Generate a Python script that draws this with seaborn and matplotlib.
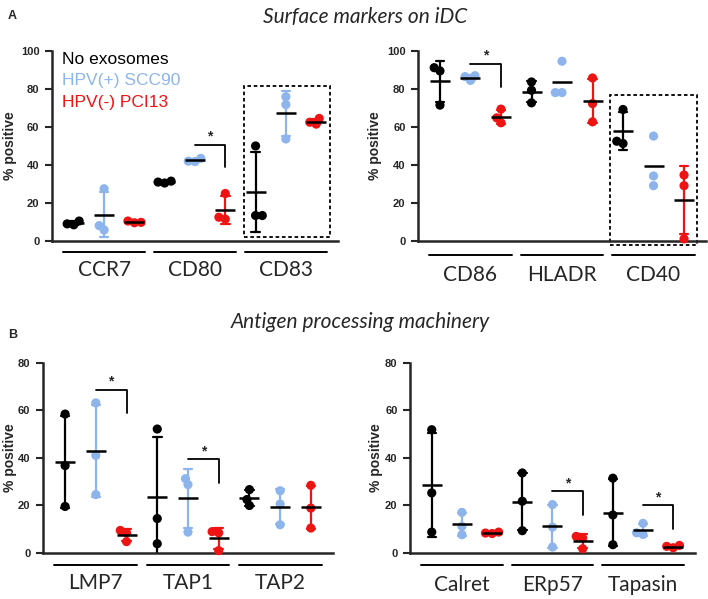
import matplotlib
matplotlib.use("Agg")
import matplotlib.pyplot as plt
import matplotlib.transforms as mtransforms
from matplotlib.patches import Rectangle
import pandas as pd
import seaborn as sns

groups = ["No exosomes", "HPV(+) SCC90", "HPV(-) PCI13"]
colors = ["#000000", "#8DB5EC", "#EE1414"]

# panel A left
a1_markers = ["CCR7", "CD80", "CD83"]
a1_no = [[10.5, 9.0, 8.5], [31.5, 31.0, 30.5], [50.0, 13.4, 13.4]]
a1_hpvp = [[27.5, 5.8, 8.1], [43.5, 42.0, 41.8], [75.9, 71.8, 53.7]]
a1_hpvn = [[10.5, 9.8, 9.6], [25.0, 11.5, 12.5], [64.5, 62.5, 61.5]]

# panel A right
a2_markers = ["CD86", "HLADR", "CD40"]
a2_no = [[91.2, 89.5, 71.5], [83.7, 79.3, 72.7], [69.2, 52.5, 51.3]]
a2_hpvp = [[87.0, 84.5, 86.5], [94.6, 78.1, 78.1], [55.2, 34.2, 29.1]]
a2_hpvn = [[69.4, 64.8, 62.2], [85.8, 72.3, 62.7], [34.7, 29.1, 1.1]]

# panel B left
b1_markers = ["LMP7", "TAP1", "TAP2"]
b1_no = [[58.5, 36.8, 19.6], [52.2, 14.5, 3.9], [26.7, 20.0, 22.5]]
b1_hpvp = [[63.2, 41.1, 24.6], [31.3, 28.8, 8.8], [26.2, 20.6, 11.9]]
b1_hpvn = [[9.5, 8.5, 4.8], [9.0, 8.5, 1.0], [28.5, 18.9, 10.5]]

# panel B right
b2_markers = ["Calret", "ERp57", "Tapasin"]
b2_no = [[51.9, 25.3, 8.8], [33.7, 21.8, 9.4], [31.5, 16.0, 3.5]]
b2_hpvp = [[17.1, 11.2, 7.7], [20.4, 10.9, 2.5], [12.5, 8.5, 7.8]]
b2_hpvn = [[8.8, 8.4, 8.2], [7.0, 6.3, 1.8], [3.2, 2.8, 2.2]]

# significance brackets: (left slot, right slot, top, bottom)
a1_sig = [(4, 5, 50.7, 38.7)]
a2_sig = [(1, 2, 93.3, 81.0)]
b1_sig = [(1, 2, 68.8, 59.0), (4, 5, 39.6, 29.5)]
b2_sig = [(4, 5, 26.0, 16.1), (7, 8, 20.0, 10.2)]

# slots whose error bars are not drawn
a2_noerr = [4, 7]

sns.set_style("ticks")
plt.rcParams["font.family"] = ["Liberation Sans", "DejaVu Sans"]

swarms = []


def long_table(markers, no, hpvp, hpvn):
    rows = []
    for i, m in enumerate(markers):
        for g, vals in zip(groups, [no[i], hpvp[i], hpvn[i]]):
            for v in vals:
                rows.append({"slot": f"{m}|{g}", "marker": m, "group": g, "value": v})
    return pd.DataFrame(rows)


def draw_panel(ax, markers, no, hpvp, hpvn, ymax, sig, noerr=(), box=None,
               legend=False, line_y=-0.06, label_y=-0.155, ylab_x=-0.12):
    df = long_table(markers, no, hpvp, hpvn)
    slots = [f"{m}|{g}" for m in markers for g in groups]
    pal = dict(zip(groups, colors))
    err_df = df[~df["slot"].isin([slots[i] for i in noerr])]
    sns.pointplot(data=err_df, x="slot", y="value", hue="group", order=slots,
                  hue_order=groups, palette=pal, errorbar="sd", capsize=0.28,
                  err_kws={"linewidth": 1.6}, markers="", linestyle="none",
                  dodge=False, legend=False, ax=ax)
    n0 = len(ax.collections)
    # small size for the swarm layout, enlarged after the first draw
    sns.swarmplot(data=df, x="slot", y="value", hue="group", order=slots,
                  hue_order=groups, palette=pal, size=4.6, legend=False,
                  ax=ax, zorder=3)
    swarms.extend(ax.collections[n0:])
    sns.pointplot(data=df, x="slot", y="value", order=slots, color="black",
                  errorbar=None, markers="_", markersize=15, markeredgewidth=1.8,
                  linestyle="none", ax=ax)
    for c in ax.collections:
        c.set_clip_on(False)
    for ln in ax.lines:
        ln.set_zorder(4 if ln.get_marker() == "_" else 2)

    ax.set_xlim(-0.72, 8.72)
    ax.set_ylim(0, ymax)
    ax.set_yticks(range(0, ymax + 1, 20))
    ax.set_xticks([])
    ax.set_xlabel("")
    ax.set_ylabel("% positive", fontsize=10, fontweight="bold")
    ax.yaxis.set_label_coords(ylab_x, 0.5)
    for lab in ax.get_yticklabels():
        lab.set_fontweight("bold")
    ax.tick_params(axis="y", labelsize=8, width=1.5, length=5, pad=4)
    sns.despine(ax=ax)
    for s in ["left", "bottom"]:
        ax.spines[s].set_linewidth(1.8)

    trans = mtransforms.blended_transform_factory(ax.transData, ax.transAxes)
    for i, m in enumerate(markers):
        c = 3 * i + 1
        ax.plot([c - 1.35, c + 1.35], [line_y, line_y], color="black", lw=1.4,
                transform=trans, clip_on=False)
        ax.text(c, label_y, m, transform=trans, ha="center", va="center",
                fontsize=15, family="Lato")

    for x0, x1, top, bot in sig:
        ax.plot([x0, x1, x1], [top, top, bot], color="black", lw=1.3, clip_on=False)
        ax.text((x0 + x1) / 2, top + ymax * 0.005, "*", ha="center", va="bottom",
                fontsize=10, fontweight="bold")

    if box is not None:
        x0, x1, y0, y1 = box
        ax.add_patch(Rectangle((x0, y0), x1 - x0, y1 - y0, fill=False, lw=1.3,
                               ls=(0, (2, 1.5)), ec="black", clip_on=False, zorder=1))

    if legend:
        for k, (g, col) in enumerate(zip(groups, colors)):
            ax.text(0.035, 0.955 - k * 0.112, g, transform=ax.transAxes, color=col,
                    fontsize=12.5, va="center", ha="left")


fig = plt.figure(figsize=(7.08, 5.99), dpi=100)
ax1 = fig.add_axes([0.0734, 0.5977, 0.404, 0.3172])
ax2 = fig.add_axes([0.5904, 0.5977, 0.4068, 0.3172])
ax3 = fig.add_axes([0.0607, 0.0768, 0.4096, 0.3172])
ax4 = fig.add_axes([0.5791, 0.0768, 0.4025, 0.3172])

draw_panel(ax1, a1_markers, a1_no, a1_hpvp, a1_hpvn, 100, a1_sig,
           box=(5.63, 8.47, 2.3, 81.5), legend=True, ylab_x=-0.122)
draw_panel(ax2, a2_markers, a2_no, a2_hpvp, a2_hpvn, 100, a2_sig, noerr=a2_noerr,
           box=(5.56, 8.44, -2.1, 76.7), line_y=-0.075, label_y=-0.18, ylab_x=-0.125)
draw_panel(ax3, b1_markers, b1_no, b1_hpvp, b1_hpvn, 80, b1_sig,
           line_y=-0.065, label_y=-0.16, ylab_x=-0.09)
draw_panel(ax4, b2_markers, b2_no, b2_hpvp, b2_hpvn, 80, b2_sig,
           line_y=-0.065, label_y=-0.17, ylab_x=-0.095)

fig.text(8 / 708, 1 - 16 / 599, "A", fontsize=9, fontweight="bold", va="center")
fig.text(8 / 708, 1 - 335 / 599, "B", fontsize=9, fontweight="bold", va="center")
fig.text(365 / 708, 1 - 17 / 599, "Surface markers on iDC", fontsize=15,
         style="italic", family="Lato", ha="center", va="center")
fig.text(360 / 708, 1 - 322 / 599, "Antigen processing machinery", fontsize=15,
         style="italic", family="Lato", ha="center", va="center")

# fix the swarm layout, then show the dots at full size (overlapping like Prism)
fig.canvas.draw()
for c in swarms:
    if "draw" in c.__dict__:
        del c.draw
    c.set_sizes([6.6 ** 2])

fig.savefig("out.png", dpi=100)
